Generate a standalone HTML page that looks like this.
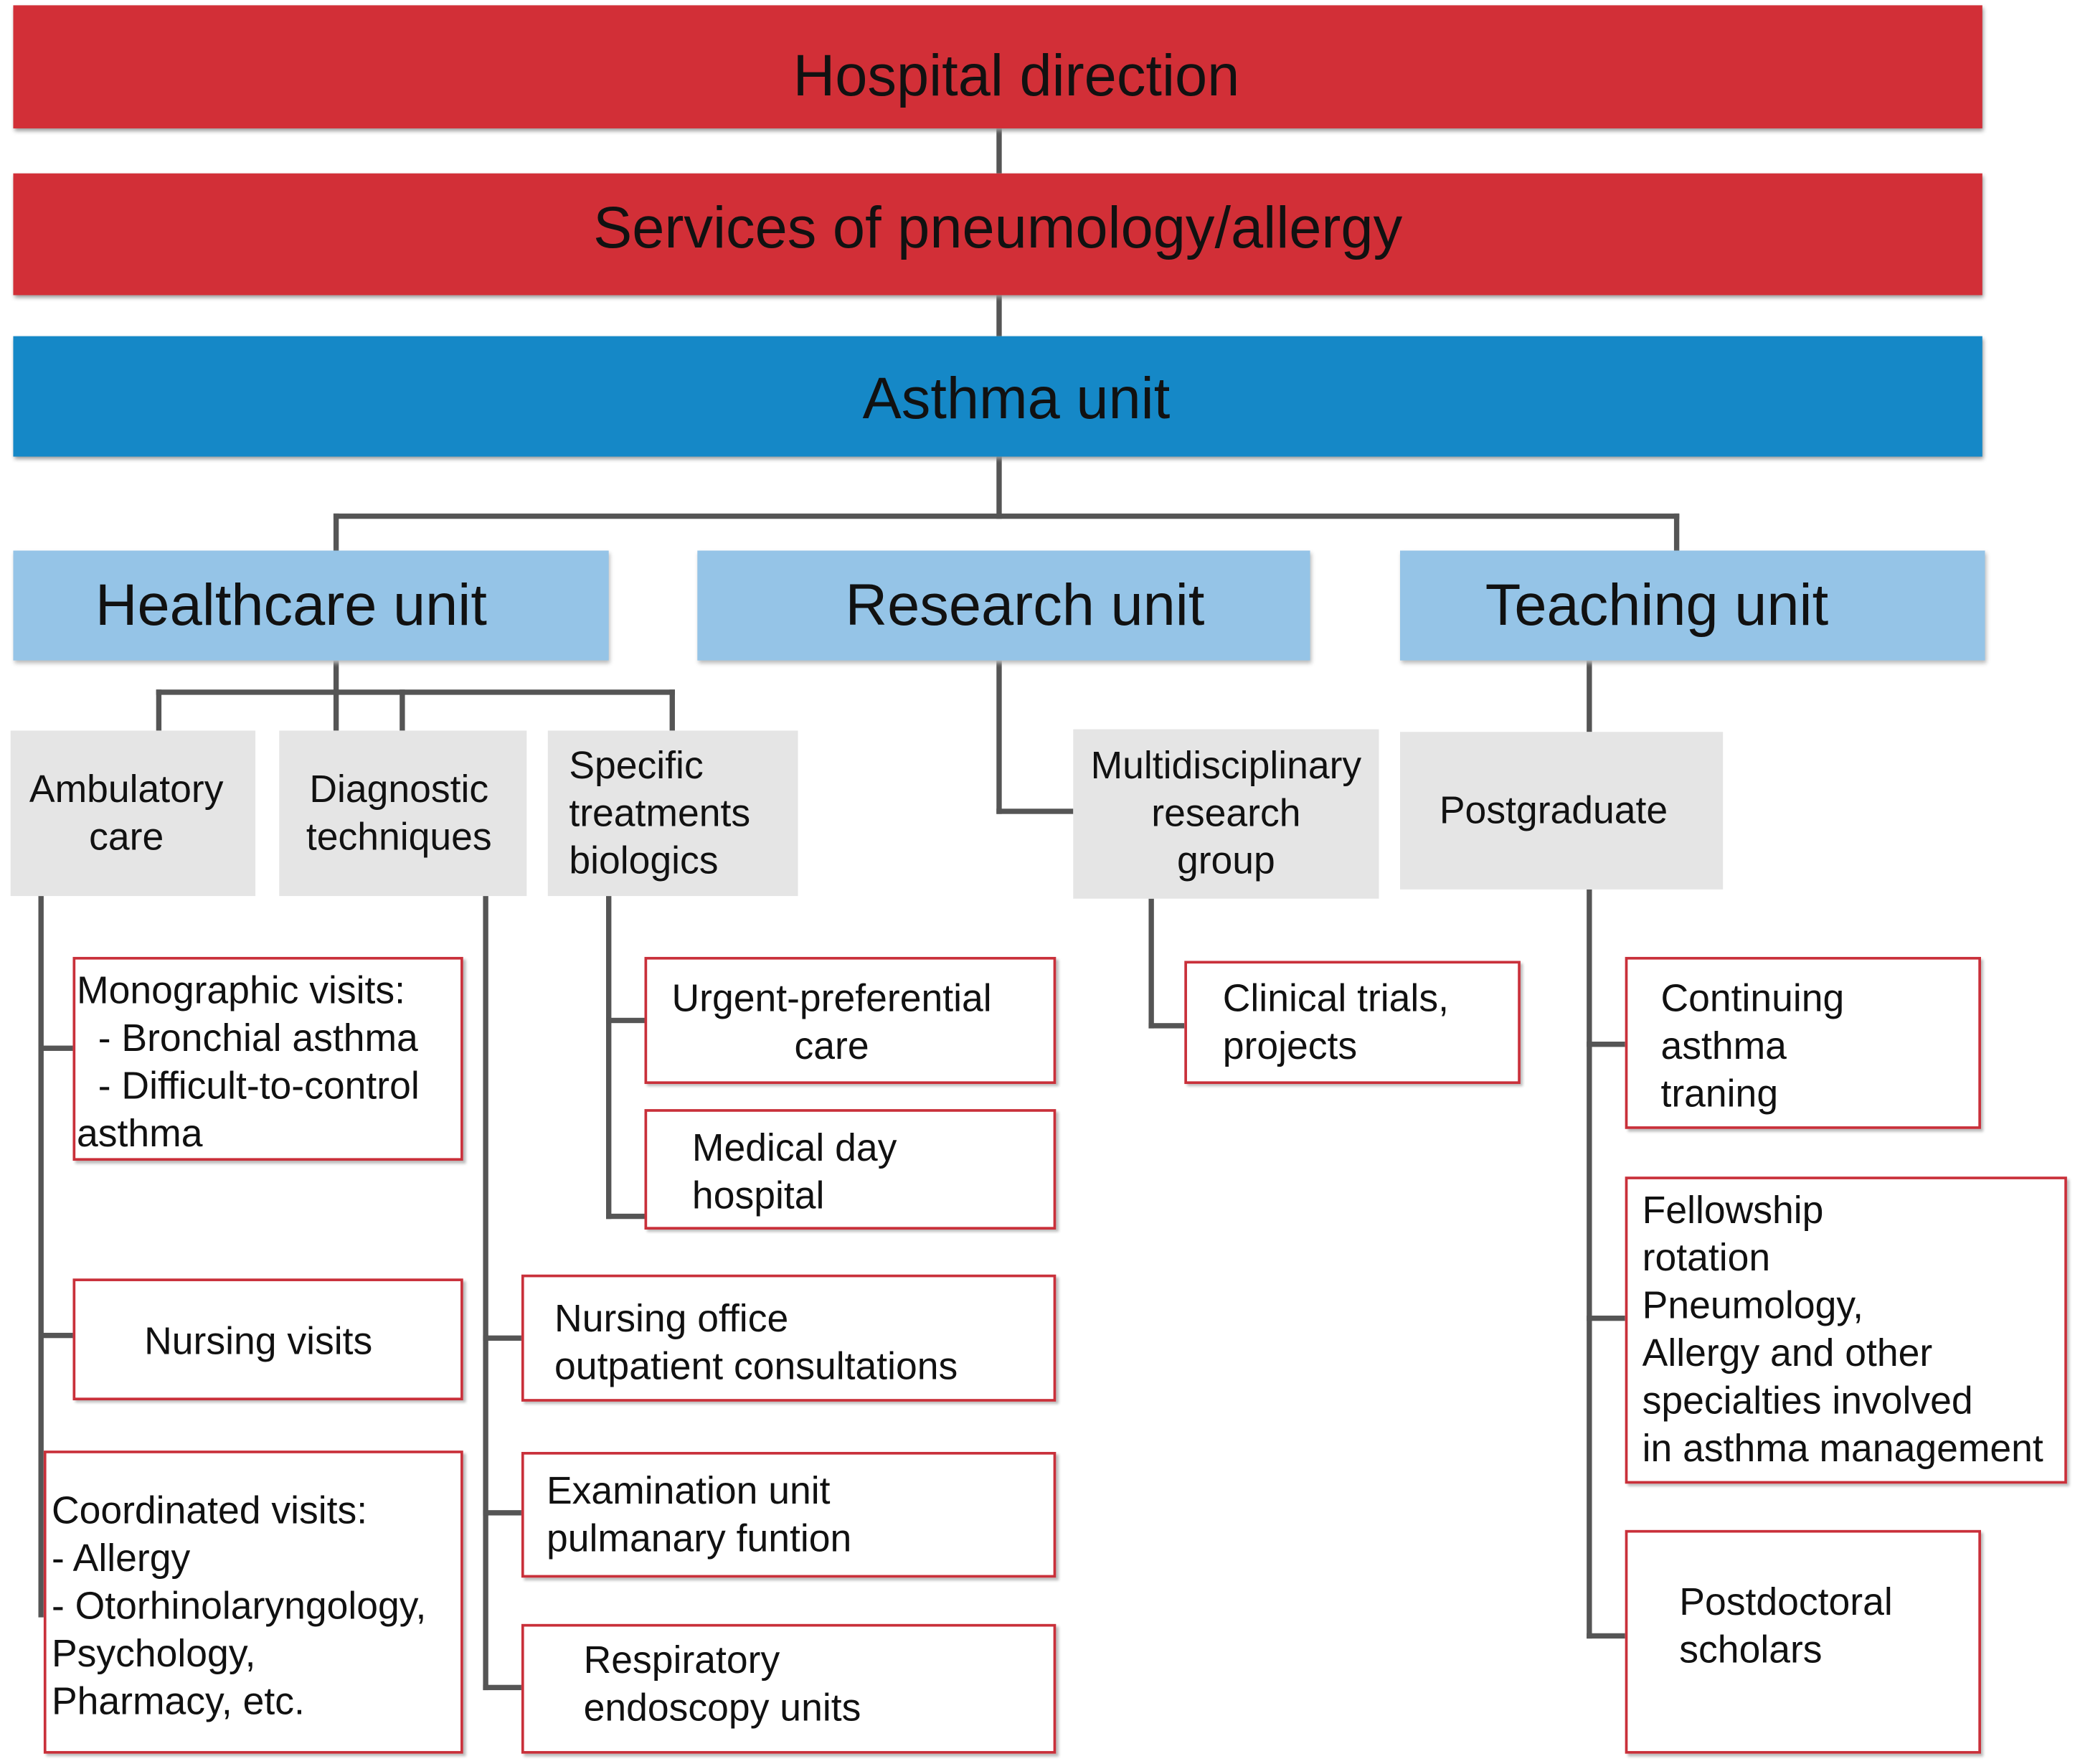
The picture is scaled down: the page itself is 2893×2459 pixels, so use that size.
<!DOCTYPE html>
<html><head><meta charset="utf-8"><style>
html,body{margin:0;padding:0;background:#fff;}
body{width:2893px;height:2459px;overflow:hidden;position:relative;}
#w{position:absolute;left:0;top:0;width:1568px;height:1333px;transform:scale(1.845);transform-origin:0 0;font-family:"Liberation Sans",Arial,sans-serif;color:#111;}
.b{position:absolute;box-sizing:border-box;}
.red{background:#d22f37;display:flex;align-items:center;justify-content:center;font-size:44px;box-shadow:1px 2px 3px #999;}
.blue{background:#1588c7;display:flex;align-items:center;justify-content:center;font-size:44px;box-shadow:1px 2px 3px #999;}
.lb{background:#95c4e7;display:flex;align-items:center;justify-content:center;font-size:44px;box-shadow:1px 2px 3px #bbb;}
.g{background:#e5e5e5;display:flex;align-items:center;justify-content:center;text-align:center;font-size:29px;line-height:36px;}
.bx{border:2px solid #c9303a;box-shadow:2px 2px 2px #bbb;background:#fff;font-size:29px;line-height:36px;}
.l{position:absolute;background:#555;}
</style></head><body><div id="w">
<!-- connectors -->
<div class="l" style="left:753px;top:97px;width:4px;height:34px"></div>
<div class="l" style="left:753px;top:223px;width:4px;height:31px"></div>
<div class="l" style="left:753px;top:345px;width:4px;height:47px"></div>
<div class="l" style="left:252px;top:388px;width:1017px;height:4px"></div>
<div class="l" style="left:252px;top:388px;width:4px;height:28px"></div>
<div class="l" style="left:1265px;top:388px;width:4px;height:28px"></div>
<div class="l" style="left:252px;top:499px;width:4px;height:53px"></div>
<div class="l" style="left:118px;top:521px;width:392px;height:4px"></div>
<div class="l" style="left:118px;top:521px;width:4px;height:31px"></div>
<div class="l" style="left:302px;top:521px;width:4px;height:31px"></div>
<div class="l" style="left:506px;top:521px;width:4px;height:31px"></div>
<div class="l" style="left:753px;top:499px;width:4px;height:116px"></div>
<div class="l" style="left:753px;top:611px;width:58px;height:4px"></div>
<div class="l" style="left:1199px;top:499px;width:4px;height:54px"></div>
<div class="l" style="left:29px;top:677px;width:4px;height:545px"></div>
<div class="l" style="left:29px;top:790px;width:26px;height:4px"></div>
<div class="l" style="left:29px;top:1007px;width:26px;height:4px"></div>
<div class="l" style="left:365px;top:677px;width:4px;height:600px"></div>
<div class="l" style="left:365px;top:1009px;width:29px;height:4px"></div>
<div class="l" style="left:365px;top:1141px;width:29px;height:4px"></div>
<div class="l" style="left:365px;top:1273px;width:29px;height:4px"></div>
<div class="l" style="left:458px;top:677px;width:4px;height:244px"></div>
<div class="l" style="left:458px;top:769px;width:29px;height:4px"></div>
<div class="l" style="left:458px;top:917px;width:29px;height:4px"></div>
<div class="l" style="left:868px;top:679px;width:4px;height:98px"></div>
<div class="l" style="left:868px;top:773px;width:27px;height:4px"></div>
<div class="l" style="left:1199px;top:672px;width:4px;height:566px"></div>
<div class="l" style="left:1199px;top:787px;width:29px;height:4px"></div>
<div class="l" style="left:1199px;top:994px;width:29px;height:4px"></div>
<div class="l" style="left:1199px;top:1234px;width:29px;height:4px"></div>
<!-- main boxes -->
<div class="b red" style="left:10px;top:4px;width:1488px;height:93px;padding-left:28px;padding-top:14px">Hospital direction</div>
<div class="b red" style="left:10px;top:131px;width:1488px;height:92px;padding-bottom:8px">Services of pneumology/allergy</div>
<div class="b blue" style="left:10px;top:254px;width:1488px;height:91px;padding-left:28px;padding-top:4px">Asthma unit</div>
<div class="b lb" style="left:10px;top:416px;width:450px;height:83px;padding-right:30px">Healthcare unit</div>
<div class="b lb" style="left:527px;top:416px;width:463px;height:83px;padding-left:32px">Research unit</div>
<div class="b lb" style="left:1058px;top:416px;width:442px;height:83px;padding-right:54px">Teaching unit</div>
<div class="b g" style="left:8px;top:552px;width:185px;height:125px;padding-right:10px">Ambulatory<br>care</div>
<div class="b g" style="left:211px;top:552px;width:187px;height:125px;padding-right:6px">Diagnostic<br>techniques</div>
<div class="b g" style="left:414px;top:552px;width:189px;height:125px;justify-content:flex-start;text-align:left;padding-left:16px">Specific<br>treatments<br>biologics</div>
<div class="b g" style="left:811px;top:551px;width:231px;height:128px;">Multidisciplinary<br>research<br>group</div>
<div class="b g" style="left:1058px;top:553px;width:244px;height:119px;padding-right:12px">Postgraduate</div>
<!-- leaf boxes -->
<div class="b bx" style="left:55px;top:723px;width:295px;height:154px;padding:6px 0 0 1px">Monographic visits:<br>&nbsp;&nbsp;- Bronchial asthma<br>&nbsp;&nbsp;- Difficult-to-control<br>asthma</div>
<div class="b bx" style="left:55px;top:966px;width:295px;height:92px;padding:28px 0 0 52px">Nursing visits</div>
<div class="b bx" style="left:33px;top:1096px;width:317px;height:229px;padding:26px 0 0 4px">Coordinated visits:<br>- Allergy<br>- Otorhinolaryngology,<br>Psychology,<br>Pharmacy, etc.</div>
<div class="b bx" style="left:487px;top:723px;width:311px;height:96px;padding:12px 0 0 0;text-align:center;padding-right:28px">Urgent-preferential<br>care</div>
<div class="b bx" style="left:487px;top:838px;width:311px;height:91px;padding:10px 0 0 34px">Medical day<br>hospital</div>
<div class="b bx" style="left:394px;top:963px;width:404px;height:96px;padding:14px 0 0 23px">Nursing office<br>outpatient consultations</div>
<div class="b bx" style="left:394px;top:1097px;width:404px;height:95px;padding:10px 0 0 17px">Examination unit<br>pulmanary funtion</div>
<div class="b bx" style="left:394px;top:1227px;width:404px;height:98px;padding:8px 0 0 45px">Respiratory<br>endoscopy units</div>
<div class="b bx" style="left:895px;top:726px;width:254px;height:93px;padding:9px 0 0 27px">Clinical trials,<br>projects</div>
<div class="b bx" style="left:1228px;top:723px;width:269px;height:130px;padding:12px 0 0 25px">Continuing<br>asthma<br>traning</div>
<div class="b bx" style="left:1228px;top:889px;width:334px;height:232px;padding:6px 0 0 11px">Fellowship<br>rotation<br>Pneumology,<br>Allergy and other<br>specialties involved<br>in asthma management</div>
<div class="b bx" style="left:1228px;top:1156px;width:269px;height:169px;padding:35px 0 0 39px">Postdoctoral<br>scholars</div>
</div></body></html>
